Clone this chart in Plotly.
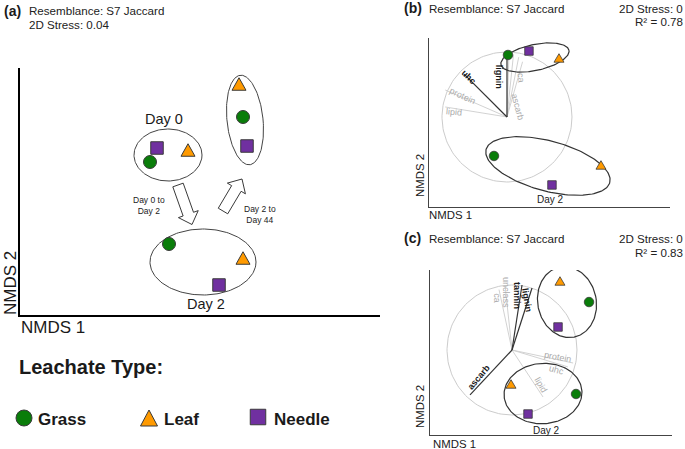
import numpy as np
import plotly.graph_objects as go

W, H = 685, 449
FONT = "Liberation Sans, Arial, sans-serif"

# ---------------- data ----------------
leachate_types = ["Grass", "Leaf", "Needle"]

# Panel (a): NMDS of all days
a_days = ["Day 0", "Day 2", "Day 44"]
a_grass_nmds1 = [-0.50, -0.31, 0.43]
a_grass_nmds2 = [0.295, -0.525, 0.745]
a_leaf_nmds1 = [-0.12, 0.43, 0.39]
a_leaf_nmds2 = [0.415, -0.665, 1.075]
a_needle_nmds1 = [-0.43, 0.19, 0.47]
a_needle_nmds2 = [0.435, -0.935, 0.455]
# group ellipses (centre x, centre y, semi-axis 1, semi-axis 2, rotation deg)
a_ell_cx = [-0.32, 0.03, 0.45]
a_ell_cy = [0.365, -0.705, 0.715]
a_ell_a = [0.34, 0.53, 0.18]
a_ell_b = [0.26, 0.33, 0.45]
a_ell_rot = [0, 0, 6]
# transitions (tail -> head)
a_arrow_labels = ["Day 0 to<br>Day 2", "Day 2 to<br>Day 44"]
a_arrow_x0 = [-0.22, 0.23]
a_arrow_y0 = [0.065, -0.195]
a_arrow_x1 = [-0.08, 0.42]
a_arrow_y1 = [-0.33, 0.125]

# Panel (b): Day 0 and Day 2
b_days = ["Day 0", "Day 2"]
b_grass_nmds1 = [0.015, -0.20]
b_grass_nmds2 = [0.954, -0.60]
b_leaf_nmds1 = [0.80, 1.446]
b_leaf_nmds2 = [0.908, -0.738]
b_needle_nmds1 = [0.338, 0.692]
b_needle_nmds2 = [1.015, -1.046]
b_ell_cx = [0.43, 0.63]
b_ell_cy = [0.915, -0.754]
b_ell_a = [0.535, 0.985]
b_ell_b = [0.20, 0.385]
b_ell_rot = [12, -15]
b_vec_names = ["lignin", "uhc", "protein", "lipid", "tannin", "unclass", "ca", "ascarb"]
b_vec_x = [0.0, -0.66, -0.95, -0.95, 0.03, 0.10, 0.18, 0.24]
b_vec_y = [0.954, 0.66, 0.415, 0.154, 0.97, 0.96, 0.92, 0.85]
b_vec_strong = ["lignin", "uhc"]
b_stress = "2D Stress: 0"
b_r2 = "R² = 0.78"

# Panel (c): Day 2 and Day 44
c_days = ["Day 2", "Day 44"]
c_grass_nmds1 = [0.985, 1.185]
c_grass_nmds2 = [-0.677, 0.738]
c_leaf_nmds1 = [-0.015, 0.738]
c_leaf_nmds2 = [-0.523, 1.062]
c_needle_nmds1 = [0.246, 0.708]
c_needle_nmds2 = [-0.985, 0.354]
c_ell_cx = [0.477, 0.846]
c_ell_cy = [-0.67, 0.738]
c_ell_a = [0.60, 0.45]
c_ell_b = [0.465, 0.55]
c_ell_rot = [4, 12]
c_vec_names = ["ascarb", "tannin", "lignin", "unclass", "ca", "protein", "uhc", "lipid"]
c_vec_x = [-0.646, 0.154, 0.308, -0.108, -0.20, 0.94, 0.86, 0.477]
c_vec_y = [-0.69, 1.0, 0.954, 1.0, 0.93, -0.20, -0.26, -0.723]
c_vec_strong = ["ascarb", "tannin", "lignin"]
c_r2 = "R² = 0.83"

# ---------------- styles ----------------
COLORS = {"Grass": "#0a7d0a", "Leaf": "#ff9a00", "Needle": "#7030a0"}
SYMBOLS = {"Grass": "circle", "Needle": "square"}
SIZE_A = {"Grass": 13, "Needle": 12.5}
SIZE_BC = {"Grass": 9.5, "Needle": 8.5}
SIZE_LEG = {"Grass": 16, "Needle": 15.5}
TRI_A = (14, 12.5)      # triangle width, height in px
TRI_BC = (10, 8.5)
TRI_LEG = (17, 16)
LIGHT = "#ababab"
DARK = "#1a1a1a"
EDGE = "#3a3a3a"

# label placement for vector names: (x, y in plot units, angle)
b_lab = {"lignin": (-0.12, 0.615, 90), "uhc": (-0.585, 0.62, 45),
         "protein": (-0.68, 0.33, 25), "lipid": (-0.815, 0.07, 5),
         "tannin": (0.015, 1.29, 90), "unclass": (0.215, 1.246, 90),
         "ca": (0.215, 0.60, 85), "ascarb": (0.165, 0.154, 75)}
c_lab = {"ascarb": (-0.51, -0.415, -50), "tannin": (0.077, 0.846, 90),
         "lignin": (0.23, 0.77, 80), "unclass": (-0.092, 0.892, 90),
         "ca": (-0.236, 0.80, 90), "protein": (0.708, -0.108, 10),
         "uhc": (0.69, -0.31, 15), "lipid": (0.446, -0.538, 60)}


def ellipse_xy(cx, cy, a, b, rot, n=160):
    t = np.linspace(0, 2 * np.pi, n)
    th = np.deg2rad(rot)
    x = cx + a * np.cos(t) * np.cos(th) - b * np.sin(t) * np.sin(th)
    y = cy + a * np.cos(t) * np.sin(th) + b * np.sin(t) * np.cos(th)
    return x, y


def block_arrow(x0, y0, x1, y1, sw=0.11, hw=0.21, hl=0.11):
    p0 = np.array([x0, y0]); p1 = np.array([x1, y1])
    u = (p1 - p0) / np.linalg.norm(p1 - p0)
    nrm = np.array([-u[1], u[0]])
    base = p1 - u * hl
    pts = [p0 + nrm * sw / 2, base + nrm * sw / 2, base + nrm * hw / 2, p1,
           base - nrm * hw / 2, base - nrm * sw / 2, p0 - nrm * sw / 2, p0 + nrm * sw / 2]
    pts = np.array(pts)
    return pts[:, 0], pts[:, 1]


fig = go.Figure()
annotations = []


def P(px, py):
    return px / W, 1 - py / H


def add_text(text, x, y, size, xref="paper", yref="paper", color=DARK, bold=False,
             angle=0, xanchor="center", yanchor="middle", align="center"):
    if xref == "paper":
        x, y = P(x, y)
    annotations.append(dict(
        text=f"<b>{text}</b>" if bold else text, x=x, y=y, xref=xref, yref=yref,
        showarrow=False, textangle=angle, xanchor=xanchor, yanchor=yanchor, align=align,
        font=dict(family=FONT, size=size, color=color), borderpad=0))


def add_triangles(xs, ys, xa, ya, wh, unit_px, lw, yup=True):
    """Filled triangles centred (bounding box) on each data point."""
    w, h = wh[0] / unit_px, wh[1] / unit_px
    s = 1 if yup else -1
    for x, y in zip(xs, ys):
        tx = [x - w / 2, x + w / 2, x, x - w / 2]
        ty = [y - s * h / 2, y - s * h / 2, y + s * h / 2, y - s * h / 2]
        fig.add_trace(go.Scatter(x=tx, y=ty, mode="lines", fill="toself",
                                 fillcolor=COLORS["Leaf"], xaxis=xa, yaxis=ya,
                                 line=dict(color=EDGE, width=lw),
                                 showlegend=False, hoverinfo="skip", cliponaxis=False))


def add_points(xs_by_type, ys_by_type, xa, ya, sizes, tri, unit_px, lw):
    add_triangles(xs_by_type["Leaf"], ys_by_type["Leaf"], xa, ya, tri, unit_px, lw)
    for t in ["Grass", "Needle"]:
        fig.add_trace(go.Scatter(
            x=xs_by_type[t], y=ys_by_type[t], mode="markers", xaxis=xa, yaxis=ya,
            marker=dict(symbol=SYMBOLS[t], size=sizes[t], color=COLORS[t],
                        line=dict(color=EDGE, width=lw)),
            name=t, showlegend=False, hoverinfo="skip", cliponaxis=False))


def add_ellipses(cx, cy, a, b, rot, xa, ya, color, width):
    for i in range(len(cx)):
        ex, ey = ellipse_xy(cx[i], cy[i], a[i], b[i], rot[i])
        fig.add_trace(go.Scatter(x=ex, y=ey, mode="lines", xaxis=xa, yaxis=ya,
                                 line=dict(color=color, width=width),
                                 showlegend=False, hoverinfo="skip"))


def add_vectors(names, vx, vy, strong, labs, xa, ya, axn):
    ex, ey = ellipse_xy(0, 0, 1, 1, 0)
    fig.add_trace(go.Scatter(x=ex, y=ey, mode="lines", xaxis=xa, yaxis=ya,
                             line=dict(color="#cccccc", width=1),
                             showlegend=False, hoverinfo="skip"))
    for want_strong in (False, True):
        xs, ys = [], []
        for n, x, y in zip(names, vx, vy):
            if (n in strong) == want_strong:
                xs += [0, x, None]; ys += [0, y, None]
        fig.add_trace(go.Scatter(
            x=xs, y=ys, mode="lines", xaxis=xa, yaxis=ya,
            line=dict(color="#333333" if want_strong else "#cdcdcd",
                      width=1.2 if want_strong else 0.9),
            showlegend=False, hoverinfo="skip"))
    for n in names:
        lx, ly, ang = labs[n]
        s = n in strong
        add_text(n, lx, ly, 9, xref="x" + axn, yref="y" + axn,
                 color=DARK if s else LIGHT, bold=s, angle=ang)


# ---------------- panel (a) ----------------
add_ellipses(a_ell_cx, a_ell_cy, a_ell_a, a_ell_b, a_ell_rot, "x", "y", "#444444", 1)
for i in range(2):
    ax_, ay_ = block_arrow(a_arrow_x0[i], a_arrow_y0[i], a_arrow_x1[i], a_arrow_y1[i])
    fig.add_trace(go.Scatter(x=ax_, y=ay_, mode="lines", fill="toself", fillcolor="white",
                             line=dict(color="#222222", width=0.9), xaxis="x", yaxis="y",
                             showlegend=False, hoverinfo="skip"))
add_points({"Grass": a_grass_nmds1, "Leaf": a_leaf_nmds1, "Needle": a_needle_nmds1},
           {"Grass": a_grass_nmds2, "Leaf": a_leaf_nmds2, "Needle": a_needle_nmds2},
           "x", "y", SIZE_A, TRI_A, 100, 1)
a_day_label_pos = [(-0.36, 0.725), (0.06, -1.125), (0.47, 1.245)]
for d, (lx, ly) in zip(a_days, a_day_label_pos):
    add_text(d, lx, ly, 14.5, xref="x", yref="y")
a_arrow_label_pos = [(-0.51, -0.135), (0.60, -0.225)]
for t, (lx, ly) in zip(a_arrow_labels, a_arrow_label_pos):
    add_text(t, lx, ly, 8.5, xref="x", yref="y", color="#222222")

# ---------------- panel (b) ----------------
add_vectors(b_vec_names, b_vec_x, b_vec_y, b_vec_strong, b_lab, "x2", "y2", "2")
add_ellipses(b_ell_cx, b_ell_cy, b_ell_a, b_ell_b, b_ell_rot, "x2", "y2", "#333333", 1.2)
add_points({"Grass": b_grass_nmds1, "Leaf": b_leaf_nmds1, "Needle": b_needle_nmds1},
           {"Grass": b_grass_nmds2, "Leaf": b_leaf_nmds2, "Needle": b_needle_nmds2},
           "x2", "y2", SIZE_BC, TRI_BC, 65, 0.8)
b_day_label_pos = [(0.60, 1.308), (0.677, -1.277)]
for d, (lx, ly) in zip(b_days, b_day_label_pos):
    add_text(d, lx, ly, 10, xref="x2", yref="y2")

# ---------------- panel (c) ----------------
add_vectors(c_vec_names, c_vec_x, c_vec_y, c_vec_strong, c_lab, "x3", "y3", "3")
add_ellipses(c_ell_cx, c_ell_cy, c_ell_a, c_ell_b, c_ell_rot, "x3", "y3", "#333333", 1.2)
add_points({"Grass": c_grass_nmds1, "Leaf": c_leaf_nmds1, "Needle": c_needle_nmds1},
           {"Grass": c_grass_nmds2, "Leaf": c_leaf_nmds2, "Needle": c_needle_nmds2},
           "x3", "y3", SIZE_BC, TRI_BC, 65, 0.8)
c_day_label_pos = [(0.538, -1.246), (0.892, 1.277)]
for d, (lx, ly) in zip(c_days, c_day_label_pos):
    add_text(d, lx, ly, 10, xref="x3", yref="y3")

# ---------------- legend (key) ----------------
leg_px = {"Grass": (24, 418), "Leaf": (149, 418), "Needle": (258, 417)}
leg_text_px = {"Grass": 37, "Leaf": 163, "Needle": 273}
w_, h_ = TRI_LEG
lx_, ly_ = leg_px["Leaf"]
fig.add_trace(go.Scatter(
    x=[lx_ - w_ / 2, lx_ + w_ / 2, lx_, lx_ - w_ / 2],
    y=[ly_ + h_ / 2, ly_ + h_ / 2, ly_ - h_ / 2, ly_ + h_ / 2],
    mode="lines", fill="toself", fillcolor=COLORS["Leaf"], xaxis="x4", yaxis="y4",
    line=dict(color=EDGE, width=1), showlegend=False, hoverinfo="skip", cliponaxis=False))
for t in ["Grass", "Needle"]:
    fig.add_trace(go.Scatter(
        x=[leg_px[t][0]], y=[leg_px[t][1]], mode="markers", xaxis="x4", yaxis="y4",
        marker=dict(symbol=SYMBOLS[t], size=SIZE_LEG[t], color=COLORS[t],
                    line=dict(color=EDGE, width=1)),
        showlegend=False, hoverinfo="skip", cliponaxis=False))
for t in leachate_types:
    add_text(t, leg_text_px[t], 419, 17, bold=True, xanchor="left")
add_text("Leachate Type:", 18, 367, 20, bold=True, xanchor="left")

# ---------------- titles & axis titles ----------------
add_text("(a)", 3, 11, 14, bold=True, xanchor="left")
add_text("Resemblance: S7 Jaccard", 28, 10, 11.6, xanchor="left", color="#222222")
add_text("2D Stress: 0.04", 28, 24, 11.6, xanchor="left", color="#222222")
add_text("NMDS 2", 10, 283, 17, angle=-90)
add_text("NMDS 1", 20, 327, 17, xanchor="left")

add_text("(b)", 403, 8, 14, bold=True, xanchor="left")
add_text("Resemblance: S7 Jaccard", 428, 8, 11.6, xanchor="left", color="#222222")
add_text(b_stress, 684, 8, 11.6, xanchor="right", color="#222222")
add_text(b_r2, 684, 21, 11.6, xanchor="right", color="#222222")
add_text("NMDS 2", 420, 176, 11.4, angle=-90)
add_text("NMDS 1", 428, 215, 11.4, xanchor="left")

add_text("(c)", 403, 238, 14, bold=True, xanchor="left")
add_text("Resemblance: S7 Jaccard", 428, 238, 11.6, xanchor="left", color="#222222")
add_text(b_stress, 684, 238, 11.6, xanchor="right", color="#222222")
add_text(c_r2, 684, 252, 11.6, xanchor="right", color="#222222")
add_text("NMDS 2", 420, 407, 11.4, angle=-90)
add_text("NMDS 1", 432, 444, 11.4, xanchor="left")


def axis(dom, rng, show=True, lw=2, lc="black"):
    return dict(domain=dom, range=rng, showline=show, linecolor=lc, linewidth=lw,
                showgrid=False, zeroline=False, showticklabels=False, ticks="",
                fixedrange=True, visible=show)


fig.update_layout(
    width=W, height=H, margin=dict(l=0, r=0, t=0, b=0),
    paper_bgcolor="white", plot_bgcolor="rgba(0,0,0,0)", showlegend=False,
    font=dict(family=FONT),
    xaxis=axis([20 / W, 380 / W], [-1.8, 1.8]),
    yaxis=axis([1 - 315 / H, 1 - 68 / H], [-1.235, 1.235]),
    xaxis2=axis([429 / W, 670 / W], [-1.2, 2.508], lw=1.3, lc="#444444"),
    yaxis2=axis([1 - 207 / H, 1 - 38 / H], [-1.385, 1.215], lw=1.3, lc="#444444"),
    xaxis3=axis([430 / W, 672 / W], [-1.262, 2.462], lw=1.3, lc="#444444"),
    yaxis3=axis([1 - 435 / H, 1 - 270 / H], [-1.308, 1.231], lw=1.3, lc="#444444"),
    xaxis4=axis([0, 1], [0, W], show=False),
    yaxis4=axis([0, 1], [H, 0], show=False),
    annotations=annotations,
)
for s in ["", "2", "3", "4"]:
    fig.layout["xaxis" + s].anchor = "y" + s
    fig.layout["yaxis" + s].anchor = "x" + s

fig.write_html(
    "out.html",
    config={"displayModeBar": False, "staticPlot": True},
    post_script="document.body.style.margin='0';document.body.style.padding='0';"
                "document.body.style.overflow='hidden';",
)
